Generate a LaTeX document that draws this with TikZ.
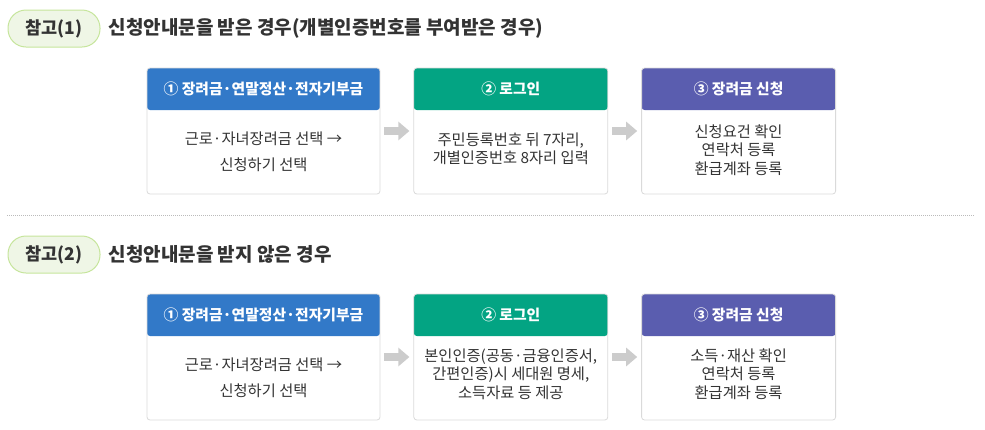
\documentclass[tikz,border=0pt]{standalone}
\usepackage{fontspec}
\setmainfont{Noto Sans CJK KR}
\usetikzlibrary{calc,positioning,arrows.meta}

\definecolor{headblue}{HTML}{3279C8}
\definecolor{headgreen}{HTML}{03A483}
\definecolor{headpurple}{HTML}{5A5DAF}
\definecolor{cardline}{HTML}{DADADA}
\definecolor{tagfill}{HTML}{EFF6E6}
\definecolor{tagline}{HTML}{C6E59C}
\definecolor{textdark}{HTML}{333333}
\definecolor{arrowgray}{HTML}{CCCCCC}
\definecolor{sepgray}{HTML}{BBBBBB}

\begin{document}
\begin{tikzpicture}[
                x=1pt, y=-1pt,
                node distance=33pt,
                tag/.style={draw=tagline, fill=tagfill, line width=1pt, rounded corners=18pt,
                    minimum width=92pt, minimum height=37pt, inner sep=0pt,
                    font=\fontsize{17.5}{20}\selectfont\bfseries, text=textdark},
                heading/.style={anchor=west, inner sep=0pt, text=textdark,
                    font=\fontsize{19}{22}\selectfont\bfseries},
                card/.style={draw=cardline, line width=0.8pt, rounded corners=3pt,
                    minimum height=126pt, inner sep=0pt,
                    path picture={\fill[#1] (path picture bounding box.north west)
                        rectangle ([yshift=-42pt]path picture bounding box.north east);}},
                headtext/.style={text=white, inner sep=0pt,
                    font=\fontsize{14.8}{17}\selectfont\bfseries},
                bodytext/.style={align=center, inner sep=0pt, text=textdark,
                    font=\fontsize{15.3}{18.5}\selectfont},
                flow/.style={draw=arrowgray, line width=8pt,
                    -{Triangle[length=11pt,width=18pt]}, shorten <=4pt, shorten >=4pt},
                sepline/.style={draw=sepgray, line width=0.8pt, dash pattern=on 1pt off 1pt}
            ]
                \useasboundingbox (0,0) rectangle (985,429);

                \node[tag] (tag1) at (54,28.5) {참고(1)};
                \node[heading, right=8pt of tag1] (title1) {신청안내문을 받은 경우(개별인증번호를 부여받은 경우)};

                \node[card=headblue, minimum width=233pt] (c1) at (263.5,131) {};
                \node[card=headgreen, minimum width=194pt, right=of c1] (c2) {};
                \node[card=headpurple, minimum width=194pt, right=of c2] (c3) {};
                \node[headtext] (h1) at ([yshift=-21pt]c1.north) {① 장려금·연말정산·전자기부금};
                \node[headtext] (h2) at ([yshift=-21pt]c2.north) {② 로그인};
                \node[headtext] (h3) at ([yshift=-21pt]c3.north) {③ 장려금 신청};
                \node[bodytext] (t1) at ([yshift=-21pt]c1.center) {근로·자녀장려금 선택 →\\[7pt]신청하기 선택};
                \node[bodytext] (t2) at ([yshift=-18pt]c2.center) {주민등록번호 뒤 7자리,\\개별인증번호 8자리 입력};
                \node[bodytext] (t3) at ([yshift=-19pt]c3.center) {신청요건 확인\\연락처 등록\\환급계좌 등록};
                \draw[flow] (c1) -- (c2);
                \draw[flow] (c2) -- (c3);

                \coordinate (sepL) at (7,215);
                \coordinate (sepR) at (975,215);
                \draw[sepline] (sepL) -- (sepR);

                \node[tag] (tag2) at (54,254.5) {참고(2)};
                \node[heading, right=8pt of tag2] (title2) {신청안내문을 받지 않은 경우};

                \node[card=headblue, minimum width=233pt] (d1) at (263.5,357) {};
                \node[card=headgreen, minimum width=194pt, right=of d1] (d2) {};
                \node[card=headpurple, minimum width=194pt, right=of d2] (d3) {};
                \node[headtext] (k1) at ([yshift=-21pt]d1.north) {① 장려금·연말정산·전자기부금};
                \node[headtext] (k2) at ([yshift=-21pt]d2.north) {② 로그인};
                \node[headtext] (k3) at ([yshift=-21pt]d3.north) {③ 장려금 신청};
                \node[bodytext] (s1) at ([yshift=-21pt]d1.center) {근로·자녀장려금 선택 →\\[7pt]신청하기 선택};
                \node[bodytext] (s2) at ([yshift=-17pt]d2.center) {본인인증(공동·금융인증서,\\간편인증)시 세대원 명세,\\소득자료 등 제공};
                \node[bodytext] (s3) at ([yshift=-17pt]d3.center) {소득·재산 확인\\연락처 등록\\환급계좌 등록};
                \draw[flow] (d1) -- (d2);
                \draw[flow] (d2) -- (d3);
            \end{tikzpicture}
\end{document}
